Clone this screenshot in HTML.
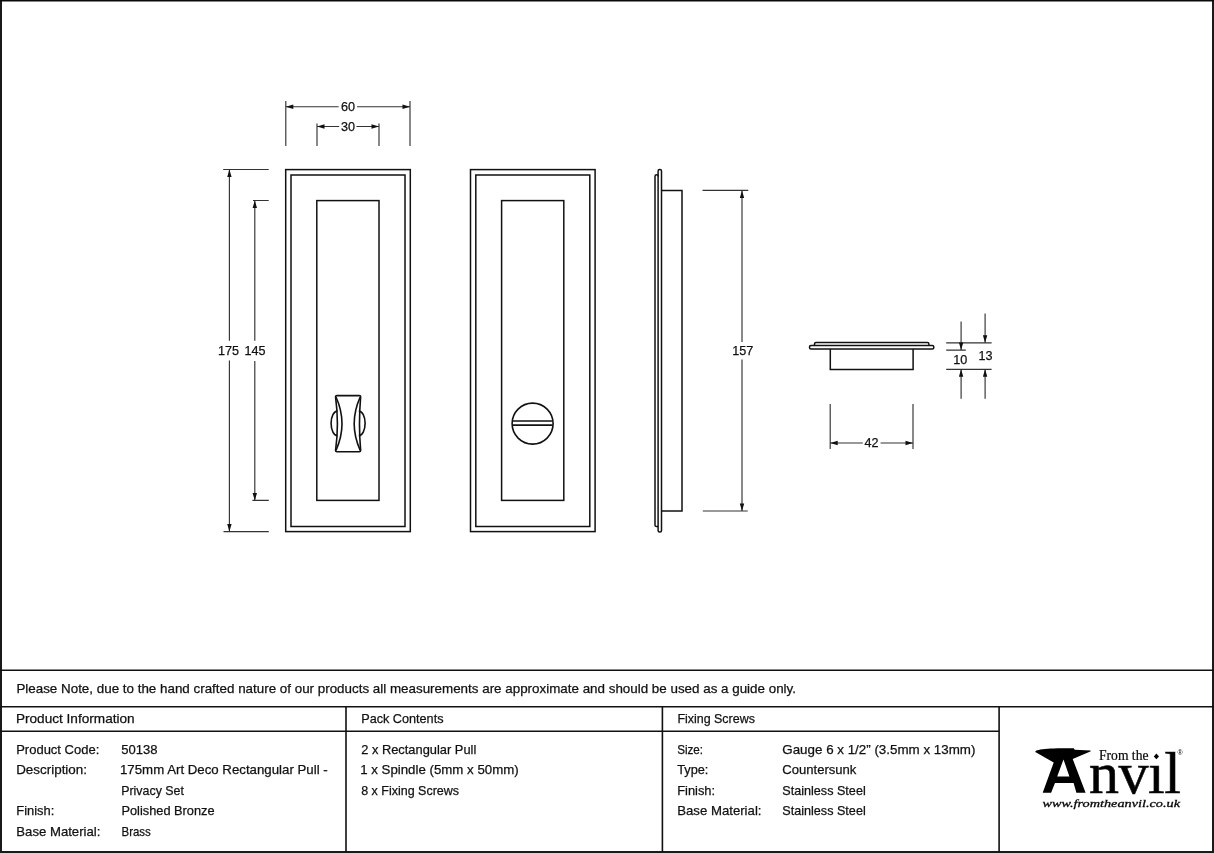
<!DOCTYPE html>
<html><head><meta charset="utf-8"><title>175mm Art Deco Rectangular Pull - Privacy Set</title>
<style>
html,body{margin:0;padding:0;background:#fff;}
body{width:1214px;height:853px;overflow:hidden;position:relative;}
svg{position:absolute;left:0;top:0;display:block;will-change:transform;}
.t{font-family:"Liberation Sans",sans-serif;font-size:13.2px;fill:#111;stroke:#111;stroke-width:0.25px;}
.d{font-family:"Liberation Sans",sans-serif;font-size:12.6px;fill:#111;stroke:#111;stroke-width:0.25px;}
.o{fill:none;stroke:#111;stroke-width:1.5;}
.m{fill:none;stroke:#333;stroke-width:1.15;}
.a{fill:#111;stroke:none;}
.g{fill:none;stroke:#111;stroke-width:1.6;}
</style></head>
<body>
<svg width="1214" height="853" viewBox="0 0 1214 853">
<!-- page border -->

<path d="M1,0V853 M1213,0V853 M0,852H1214" stroke="#1a1a1a" stroke-width="2" fill="none"/><path d="M0,0.75H1214" stroke="#0a0a0a" stroke-width="1.6" fill="none"/>

<!-- ===== Drawing 1: front view ===== -->
<g class="o">
<rect x="285.7" y="169.6" width="124.6" height="362"/>
<rect x="291" y="175" width="114" height="351.5"/>
<rect x="316.8" y="200.6" width="62.2" height="299.8"/>
</g>
<!-- thumbturn (front) -->
<g class="g">
<path d="M337,395.6 H359.2 Q360.9,395.6 360.6,397.4 Q358.4,423.7 360.6,450 Q360.9,451.7 359.2,451.7 H337 Q335.3,451.7 335.6,450 Q339.2,423.7 335.6,397.4 Q335.3,395.6 337,395.6 Z"/>
<path d="M336,397 Q348,423.7 336,450.3"/>
<path d="M360.2,397 Q348.2,423.7 360.2,450.3"/>
<path d="M337.4,411.1 A6.3,12.2 0 0 0 337.4,435.6"/>
<path d="M358.8,411.1 A6.3,12.2 0 0 1 358.8,435.6"/>
</g>

<!-- dims drawing 1 -->
<g class="m">
<path d="M285.8,101V146 M410,101V146 M285.8,106.7H338.6 M357.1,106.7H410"/>
<path d="M317,123.4V146 M379,123.4V146 M317,126.5H339.2 M356.5,126.5H379"/>
<path d="M223.2,169.5H268.7 M223.5,531.6H268.8 M229.4,169.5V340.7 M229.4,360.4V531.6"/>
<path d="M253,200.5H268.7 M252.4,500.4H268.8 M254.8,200.5V340.7 M254.8,361.1V500.4"/>
</g>
<g class="a">
<path d="M285.8,106.7 l7.5,-2.2 v4.4z M410,106.7 l-7.5,-2.2 v4.4z"/>
<path d="M317,126.5 l7.5,-2.2 v4.4z M379,126.5 l-7.5,-2.2 v4.4z"/>
<path d="M229.4,169.5 l-2.2,7.5 h4.4z M229.4,531.6 l-2.2,-7.5 h4.4z"/>
<path d="M254.8,200.5 l-2.2,7.5 h4.4z M254.8,500.4 l-2.2,-7.5 h4.4z"/>
</g>
<text class="d" x="348" y="111" text-anchor="middle">60</text>
<text class="d" x="348" y="130.8" text-anchor="middle">30</text>
<text class="d" x="228.6" y="354.8" text-anchor="middle">175</text>
<text class="d" x="254.9" y="354.8" text-anchor="middle">145</text>

<!-- ===== Drawing 2: back view ===== -->
<g class="o">
<rect x="470.5" y="169.6" width="124.6" height="362"/>
<rect x="475.8" y="175" width="114" height="351.5"/>
<rect x="501.6" y="200.6" width="62.2" height="299.8"/>
</g>
<g class="g">
<circle cx="532.6" cy="423.6" r="20.5"/>
<path d="M512.6,421 H552.6 M512.6,425.1 H552.6"/>
</g>

<!-- ===== Drawing 3: side view ===== -->
<g class="o">
<path d="M658.1,176.4 Q658.1,174.8 656.55,174.8 Q655,174.8 655,176.4 V525.2 Q655,526.6 656.4,526.6 H658.1"/>
<rect x="658.1" y="169.6" width="3.4" height="362.4" rx="1.5"/>
<path d="M661.5,190.4 H682 V511 H661.5"/>
</g>
<g class="m">
<path d="M702.5,190.4H748.3 M702.8,511H747.7 M742,190.4V342 M742,359.5V511"/>
</g>
<g class="a">
<path d="M742,190.4 l-2.2,7.5 h4.4z M742,511 l-2.2,-7.5 h4.4z"/>
</g>
<text class="d" x="742.8" y="354.9" text-anchor="middle">157</text>

<!-- ===== Drawing 4: top view ===== -->
<g class="o">
<path d="M814.5,345.6 V344.1 Q814.5,342.6 816,342.6 H927.4 Q928.9,342.6 928.9,344.1 V345.6"/>
<rect x="809.5" y="345.6" width="124.3" height="3.3" rx="1.5"/>
<path d="M830.3,348.9 V369.6 H913.1 V348.9"/>
</g>
<g class="m">
<path d="M946.2,342.8H991.6 M946.2,350.1H965.8 M946.2,369.3H991.6"/>
<path d="M961.1,321.4V350.1 M961.1,369.3V398.8 M985.1,313.4V342.8 M985.1,369.3V398.8"/>
<path d="M830.2,404.1V449.1 M913,404.1V449.1 M830.2,443H862.8 M880.6,443H913"/>
</g>
<g class="a">
<path d="M961.1,350.1 l-2.2,-7.5 h4.4z M961.1,369.3 l-2.2,7.5 h4.4z"/>
<path d="M985.1,342.8 l-2.2,-7.5 h4.4z M985.1,369.3 l-2.2,7.5 h4.4z"/>
<path d="M830.2,443 l7.5,-2.2 v4.4z M913,443 l-7.5,-2.2 v4.4z"/>
</g>
<text class="d" x="960.2" y="364.2" text-anchor="middle">10</text>
<text class="d" x="985.4" y="360.1" text-anchor="middle">13</text>
<text class="d" x="871.6" y="446.9" text-anchor="middle">42</text>

<!-- ===== Table ===== -->
<g stroke="#111" stroke-width="1.6" fill="none">
<path d="M0,670.2H1214 M0,706.8H1214 M0,731.2H999.1"/>
<path d="M346,706.8V852 M662.4,706.8V852 M999.1,706.8V852"/>
</g>

<text class="t" x="16.4" y="693.1" textLength="779.6" lengthAdjust="spacingAndGlyphs">Please Note, due to the hand crafted nature of our products all measurements are approximate and should be used as a guide only.</text>

<text class="t" x="15.9" y="722.5" textLength="118.8" lengthAdjust="spacingAndGlyphs">Product Information</text>
<text class="t" x="361.2" y="722.5" textLength="82.3" lengthAdjust="spacingAndGlyphs">Pack Contents</text>
<text class="t" x="677.4" y="722.5" textLength="77.5" lengthAdjust="spacingAndGlyphs">Fixing Screws</text>

<text class="t" x="16.2" y="753.6" textLength="83.1" lengthAdjust="spacingAndGlyphs">Product Code:</text>
<text class="t" x="121.2" y="753.6" textLength="36.3" lengthAdjust="spacingAndGlyphs">50138</text>
<text class="t" x="16.2" y="774.2" textLength="70.8" lengthAdjust="spacingAndGlyphs">Description:</text>
<text class="t" x="120.0" y="774.2" textLength="207.7" lengthAdjust="spacingAndGlyphs">175mm Art Deco Rectangular Pull -</text>
<text class="t" x="121.2" y="794.6" textLength="62.7" lengthAdjust="spacingAndGlyphs">Privacy Set</text>
<text class="t" x="16.3" y="815.1" textLength="38.0" lengthAdjust="spacingAndGlyphs">Finish:</text>
<text class="t" x="121.5" y="815.1" textLength="93.0" lengthAdjust="spacingAndGlyphs">Polished Bronze</text>
<text class="t" x="16.3" y="835.6" textLength="84.1" lengthAdjust="spacingAndGlyphs">Base Material:</text>
<text class="t" x="121.5" y="835.6" textLength="29.3" lengthAdjust="spacingAndGlyphs">Brass</text>

<text class="t" x="361.2" y="753.6" textLength="115.1" lengthAdjust="spacingAndGlyphs">2 x Rectangular Pull</text>
<text class="t" x="360.2" y="774.2" textLength="158.5" lengthAdjust="spacingAndGlyphs">1 x Spindle (5mm x 50mm)</text>
<text class="t" x="361.2" y="794.6" textLength="97.9" lengthAdjust="spacingAndGlyphs">8 x Fixing Screws</text>

<text class="t" x="677.2" y="753.6" textLength="25.9" lengthAdjust="spacingAndGlyphs">Size:</text>
<text class="t" x="782.3" y="753.6" textLength="193.1" lengthAdjust="spacingAndGlyphs">Gauge 6 x 1/2” (3.5mm x 13mm)</text>
<text class="t" x="677.2" y="774.2" textLength="31.2" lengthAdjust="spacingAndGlyphs">Type:</text>
<text class="t" x="782.3" y="774.2" textLength="74.1" lengthAdjust="spacingAndGlyphs">Countersunk</text>
<text class="t" x="677.2" y="794.6" textLength="37.9" lengthAdjust="spacingAndGlyphs">Finish:</text>
<text class="t" x="782.3" y="794.6" textLength="83.4" lengthAdjust="spacingAndGlyphs">Stainless Steel</text>
<text class="t" x="677.2" y="815.1" textLength="84.3" lengthAdjust="spacingAndGlyphs">Base Material:</text>
<text class="t" x="782.3" y="815.1" textLength="83.4" lengthAdjust="spacingAndGlyphs">Stainless Steel</text>

<!-- ===== Logo ===== -->
<g fill="#000">
<path fill-rule="evenodd" d="M1035.3,751.9 C1035.2,750.6 1037.5,749.6 1045,748.9 C1052,748.4 1062,748.3 1073.8,748.3 L1074.7,749.8 L1090.3,750.5 Q1091.2,751 1090.3,751.6 L1072.7,759 L1085.6,792.8 L1076.4,792.8 L1073.6,782.9 L1055,782.9 L1051.1,792.8 L1042.7,792.8 L1053.7,762.5 L1036.2,752.6 Q1035.4,752.3 1035.3,751.9 Z M1063.5,759.4 L1069.4,776.6 L1057.2,776.6 Z"/>
<text x="1089" y="792.8" font-family="Liberation Serif" font-size="60" stroke="#111" stroke-width="0.6" textLength="92" lengthAdjust="spacing">nvıl</text>
<text x="1099" y="759.5" font-family="Liberation Serif" font-size="13.6" stroke="#111" stroke-width="0.2">From the</text>
<path d="M1156.4,753.6 l2.6,2.8 l-2.6,2.8 l-2.6,-2.8z"/>
<text x="1042.5" y="807.2" font-family="Liberation Serif" font-style="italic" font-size="11" stroke="#111" stroke-width="0.3" textLength="137.5" lengthAdjust="spacingAndGlyphs">www.fromtheanvil.co.uk</text>
<text x="1177.4" y="755" font-family="Liberation Sans" font-size="7">®</text>
</g>
</svg>
</body></html>
